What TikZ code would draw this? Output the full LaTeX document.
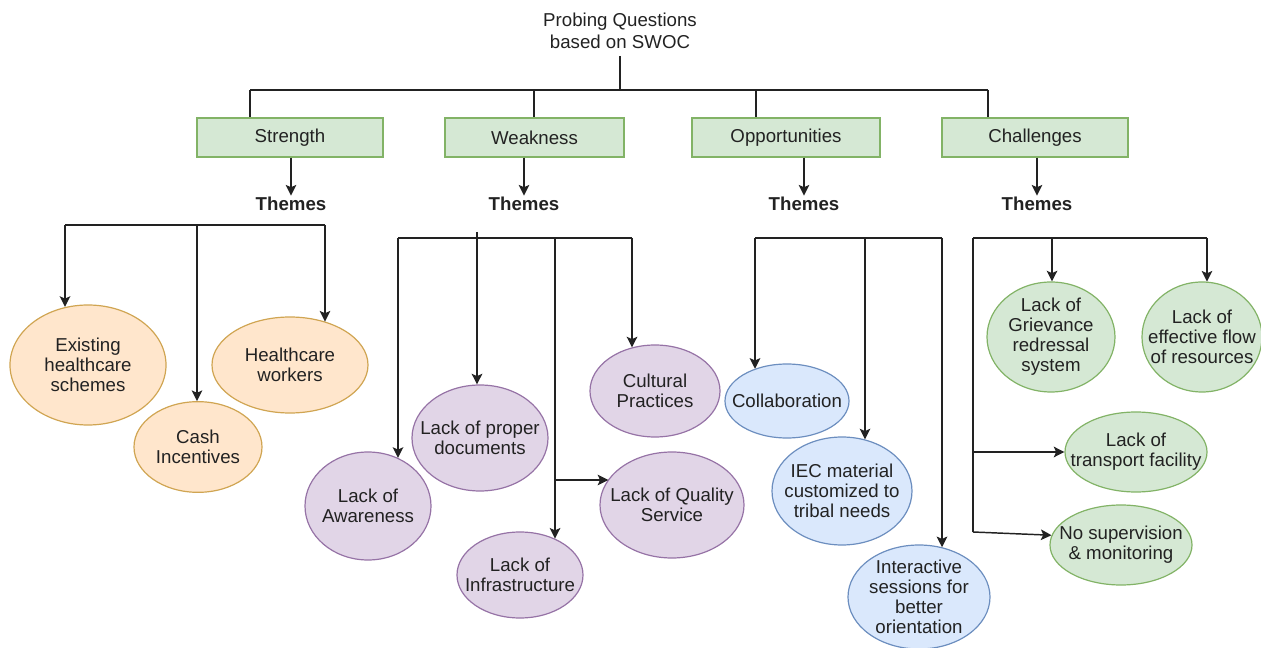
\documentclass[tikz,border=0pt]{standalone}
\usepackage{fontspec}
\setmainfont{Liberation Sans}
\usetikzlibrary{arrows.meta,shapes.geometric}
\definecolor{gfill}{HTML}{D5E8D4}
\definecolor{gline}{HTML}{82B366}
\definecolor{ofill}{HTML}{FFE6CC}
\definecolor{oline}{HTML}{D0A552}
\definecolor{pfill}{HTML}{E1D5E7}
\definecolor{pline}{HTML}{9673A6}
\definecolor{bfill}{HTML}{DAE8FC}
\definecolor{bline}{HTML}{6C8EBF}
\definecolor{ink}{HTML}{222222}
\newcommand\bubble[6]{%
  \node[#2, minimum width=#4, minimum height=#5] (#1) at (#3) {};
  \node[txt] (#1-t) at (#1.center) {#6};}
\begin{document}
\begin{tikzpicture}[x=0.75pt,y=-0.75pt,
  every node/.style={font=\fontsize{14}{15}\selectfont},
  txt/.style={align=center, inner sep=0pt, text=ink},
  hdr/.style={draw=gline, fill=gfill, line width=0.8pt, minimum height=29.25pt, inner sep=0pt, text=ink},
  bub/.style={ellipse, inner sep=0pt, line width=0.9pt},
  obub/.style={bub, draw=oline, fill=ofill},
  pbub/.style={bub, draw=pline, fill=pfill},
  bbub/.style={bub, draw=bline, fill=bfill},
  gbub/.style={bub, draw=gline, fill=gfill},
  thm/.style={font=\fontsize{14}{15}\selectfont\bfseries, inner sep=1pt, text=ink},
  ln/.style={line width=1.1pt, draw=ink},
  thinln/.style={line width=0.8pt, draw=ink},
  thickln/.style={line width=2.2pt, draw=ink},
  arr/.style={ln, -{Stealth[length=8pt,width=8pt,inset=1.8pt]}}]
\useasboundingbox (0,0) rectangle (1261,648);

% title and headers
\node[txt, font=\fontsize{14}{16.5}\selectfont] (title) at (620,31) {Probing Questions\\based on SWOC};
\coordinate (top) at (620,90);
\coordinate (tS) at (250,90);
\coordinate (tW) at (534,90);
\coordinate (tO) at (756,90);
\coordinate (tC) at (988,90);
\node[hdr, minimum width=139.5pt] (S) at (290,137.5) {Strength};
\node[hdr, minimum width=134.25pt] (W) at (534.5,137.5) {Weakness};
\node[hdr, minimum width=141pt] (O) at (786,137.5) {Opportunities};
\node[hdr, minimum width=139.5pt] (C) at (1035,137.5) {Challenges};

\draw[thickln] ([yshift=-5pt]title.south) -- (top);
\draw[thickln] (tS) -- (tC);
\draw[thickln] (tS) -- (tS |- S.north);
\draw[thickln] (tC) -- (tC |- C.north);
\draw[thinln] (tW) -- (tW |- W.north);
\draw[thinln] (tO) -- (tO |- O.north);

% themes
\node[thm] (thS) at (291,204) {Themes};
\node[thm] (thW) at (524,204) {Themes};
\node[thm] (thO) at (804,204) {Themes};
\node[thm] (thC) at (1037,204) {Themes};
\draw[arr] (S.south -| thS.north) -- (thS.north);
\draw[arr] (W.south -| thW.north) -- (thW.north);
\draw[arr] (O.south -| thO.north) -- (thO.north);
\draw[arr] (C.south -| thC.north) -- (thC.north);

% strength bubbles
\bubble{exist}{obub}{88,365}{117pt}{90pt}{Existing\\healthcare\\schemes}
\bubble{cash}{obub}{198,447}{96pt}{68pt}{Cash\\Incentives}
\bubble{hcw}{obub}{290,365}{117pt}{72pt}{Healthcare\\workers}

% weakness bubbles
\bubble{aware}{pbub}{368,506}{94.5pt}{81pt}{Lack of\\Awareness}
\bubble{docs}{pbub}{480,438}{102pt}{79.5pt}{Lack of proper\\documents}
\bubble{cult}{pbub}{655,391}{97.5pt}{69pt}{Cultural\\Practices}
\bubble{qual}{pbub}{672,505}{108pt}{79.5pt}{Lack of Quality\\Service}
\bubble{infra}{pbub}{520,575}{94.5pt}{64.5pt}{Lack of\\Infrastructure}

% opportunities bubbles
\bubble{collab}{bbub}{787,401}{93pt}{55.5pt}{Collaboration}
\bubble{iec}{bbub}{842,491}{105pt}{81pt}{IEC material\\customized to\\tribal needs}
\bubble{inter}{bbub}{919,597}{106.5pt}{78pt}{Interactive\\sessions for\\better\\orientation}

% challenges bubbles
\bubble{griev}{gbub}{1051,337}{96pt}{82.5pt}{Lack of\\Grievance\\redressal\\system}
\bubble{flow}{gbub}{1202,337}{90pt}{82.5pt}{Lack of\\effective flow\\of resources}
\bubble{trans}{gbub}{1136,452}{106.5pt}{60pt}{Lack of\\transport facility}
\bubble{superv}{gbub}{1121,545}{106.5pt}{60pt}{No supervision\\\& monitoring}

% strength connectors
\coordinate (sL) at (65,225);
\coordinate (sM) at (197,225);
\coordinate (sR) at (325,225);
\draw[ln] (sL) -- (sR);
\draw[arr] (sL) -- (sL |- exist.111);
\draw[arr] (sM) -- (sM |- cash.north);
\draw[arr] (sR) -- (sR |- hcw.51);

% weakness connectors
\coordinate (wL) at (398,238);
\coordinate (wIn) at (477,232);
\coordinate (wM) at (555,238);
\coordinate (wQ) at (555,480);
\coordinate (wR) at (632,238);
\draw[ln] (wL) -- (wR);
\draw[arr] (wIn) -- (wIn |- docs.92);
\draw[arr] (wL) -- (wL |- aware.58);
\draw[arr] (wM) -- (wM |- infra.46);
\draw[arr] (wQ) -- (wQ -| qual.158);
\draw[arr] (wR) -- (wR |- cult.118);

% opportunities connectors
\coordinate (oL) at (755,238);
\coordinate (oM) at (865,238);
\coordinate (oR) at (942,238);
\draw[ln] (oL) -- (oR);
\draw[arr] (oL) -- (oL |- collab.135);
\draw[arr] (oM) -- (oM |- iec.66);
\draw[arr] (oR) -- (oR |- inter.65);

% challenges connectors
\coordinate (cL) at (973,238);
\coordinate (cA) at (1052,238);
\coordinate (cR) at (1207,238);
\coordinate (cT) at (973,452);
\coordinate (cB) at (973,532);
\draw[ln] (cL) -- (cR);
\draw[ln] (cL) -- (cB);
\draw[arr] (cA) -- (cA |- griev.north);
\draw[arr] (cR) -- (cR |- flow.85);
\draw[arr] (cT) -- (trans.west);
\draw[arr] (cB) -- (superv.172);
\end{tikzpicture}
\end{document}
